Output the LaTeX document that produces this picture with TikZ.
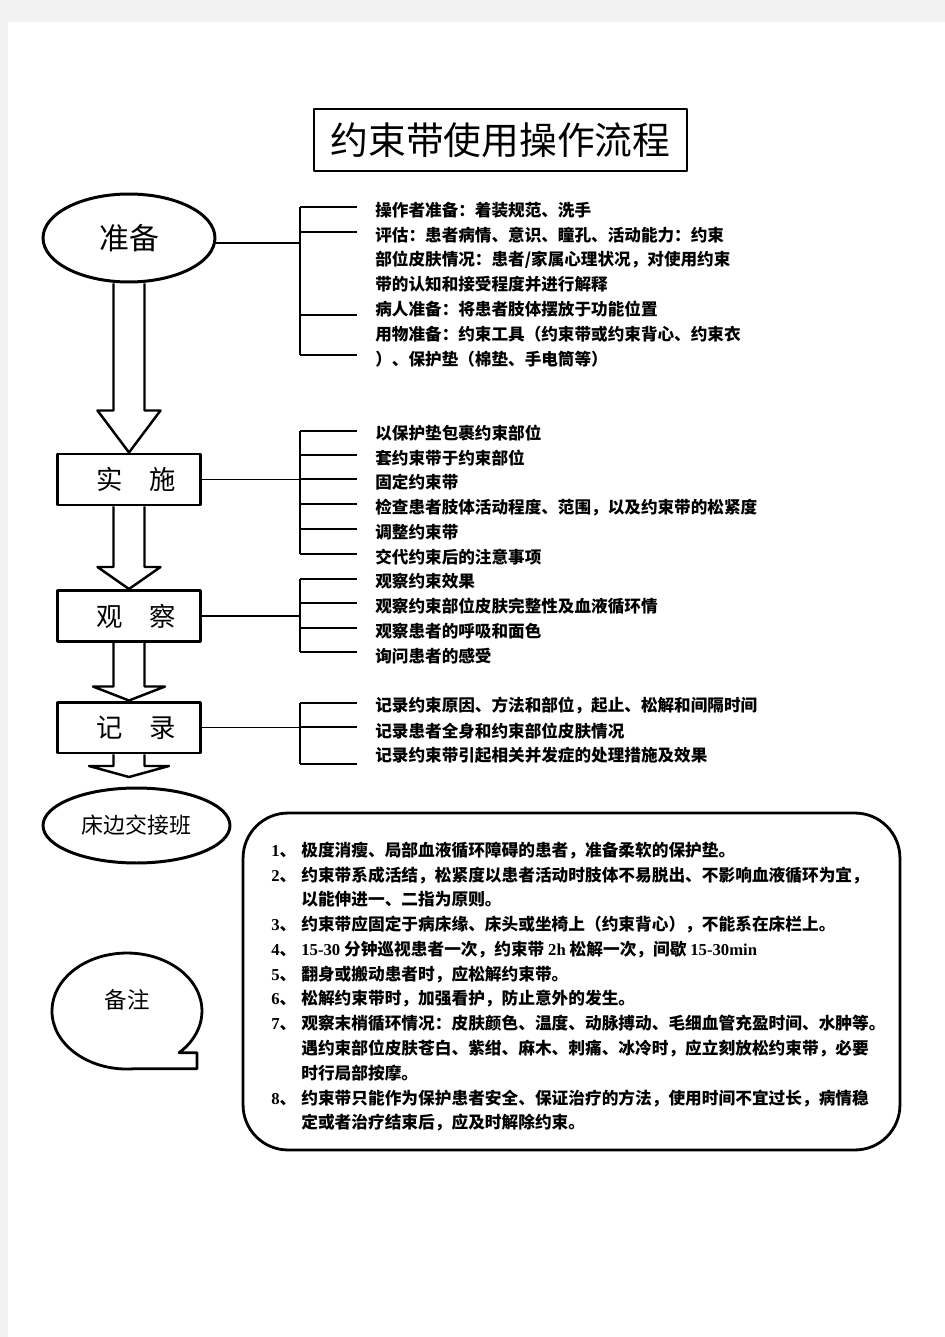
\documentclass[tikz,border=0pt]{standalone}
\usepackage{fontspec}
\newfontfamily\cjk{Noto Sans CJK SC}
\newfontfamily\lat{Liberation Serif}
\usetikzlibrary{arrows.meta, calc, shapes.geometric}

% hollow block arrow: start, tip, head length, head half width
\newcommand{\fatarrow}[4]{%
	\draw[fatline] ($(#1)+(-15.5,0)$) -- ($(#2)+(-15.5,-#3)$) -- ($(#2)+(-#4,-#3)$)
	-- (#2) -- ($(#2)+(#4,-#3)$) -- ($(#2)+(15.5,-#3)$) -- ($(#1)+(15.5,0)$);}
\newcommand{\no}[1]{\makebox[0.6cm][l]{{\lat\bfseries #1}、}}
\newcommand{\ind}{\hspace*{0.6cm}}

\begin{document}
\begin{tikzpicture}[x=0.02cm, y=-0.02cm, line join=round, font=\cjk,
	heading/.style={draw, line width=1.4pt, minimum width=7.46cm, minimum height=1.24cm,
		font=\cjk\fontsize{21.5}{24}\selectfont},
	oval/.style={draw, ellipse, line width=1.7pt, inner sep=0pt},
	stage/.style={draw, line width=1.7pt, minimum width=2.88cm, minimum height=1.02cm,
		font=\cjk\fontsize{15}{18}\selectfont},
	item/.style={anchor=west, inner sep=0pt, font=\cjk\bfseries\fontsize{9.45}{14.1}\selectfont},
	feed/.style={line width=0.6pt},
	tick/.style={line width=0.6pt},
	tickb/.style={line width=1.3pt},
	fatline/.style={line width=1.4pt},
	notebox/.style={draw, rounded corners=0.9cm, line width=1.6pt,
		minimum width=13.14cm, minimum height=6.74cm},
	notetext/.style={anchor=north west, inner sep=0pt, align=left,
		font=\cjk\bfseries\fontsize{9.5}{14.1}\selectfont}]
\useasboundingbox (0,0) rectangle (945,1337);
% page
\fill[black!5] (0,0) rectangle (945,1337);
\fill[white] (8,22) rectangle (945,1337);

%========================
% title and stages
%========================
\node[heading] (title) at (500.5,140) {约束带使用操作流程};
\node[oval, minimum width=3.44cm, minimum height=1.76cm,
	font=\cjk\fontsize{17}{20}\selectfont] (prep) at (129,238) {准备};
\node[stage] (impl) at (129,479.5) {\hspace{0.3cm}实\hspace{1em}施};
\node[stage] (obs) at (129,616) {\hspace{0.3cm}观\hspace{1em}察};
\node[stage] (rec) at (129,727.5) {\hspace{0.3cm}记\hspace{1em}录};
\node[oval, minimum width=3.74cm, minimum height=1.5cm,
	font=\cjk\fontsize{12.5}{15}\selectfont] (hand) at (136.5,825.5) {床边交接班};
\coordinate (handtip) at (129,777);

% block arrows
\fatarrow{prep.south}{impl.north}{42}{31.5}
\fatarrow{impl.south}{obs.north}{22}{31.5}
\fatarrow{obs.south}{rec.north}{14}{36}
\fatarrow{rec.south}{handtip}{11}{40}

%========================
% preparation items
%========================
\foreach \t [count=\i from 0] in {操作者准备：着装规范、洗手,
	评估：患者病情、意识、瞳孔、活动能力：约束,
	部位皮肤情况：患者/家属心理状况，对使用约束,
	带的认知和接受程度并进行解释,
	病人准备：将患者肢体摆放于功能位置,
	用物准备：约束工具（约束带或约束背心、约束衣,
	）、保护垫（棉垫、手电筒等）}
	\node[item] (a\i) at (375,210+24.8*\i) {\t};
\coordinate (s1) at (300,207);
\draw[feed] ([yshift=-0.1cm]prep.east) -- ([yshift=-0.1cm]prep.east -| s1);
\draw[tick] (s1) -- (300,355);
\foreach \y/\s in {207/tick, 232/tickb, 315/tick, 355/tickb}
	\draw[\s] (300,\y) -- (357,\y);

%========================
% implementation and observation items
%========================
\foreach \t [count=\i from 0] in {以保护垫包裹约束部位,
	套约束带于约束部位,
	固定约束带,
	检查患者肢体活动程度、范围，以及约束带的松紧度,
	调整约束带,
	交代约束后的注意事项,
	观察约束效果,
	观察约束部位皮肤完整性及血液循环情,
	观察患者的呼吸和面色,
	询问患者的感受}
	\node[item] (b\i) at (375,433+24.75*\i) {\t};
\coordinate (s2) at (300,431);
\draw[feed] (impl.east) -- (impl.east -| s2);
\draw[tick] (s2) -- (300,554);
\foreach \y/\s in {431/tick, 455/tick, 479/tickb, 504/tick, 529/tick, 554/tick}
	\draw[\s] (300,\y) -- (357,\y);

\coordinate (s3) at (300,579);
\draw[feed] (obs.east) -- (obs.east -| s3);
\draw[tick] (s3) -- (300,652);
\foreach \y/\s in {579/tick, 603/tickb, 628/tick, 652/tick}
	\draw[\s] (300,\y) -- (357,\y);

%========================
% record items
%========================
\foreach \t [count=\i from 0] in {记录约束原因、方法和部位，起止、松解和间隔时间,
	记录患者全身和约束部位皮肤情况,
	记录约束带引起相关并发症的处理措施及效果}
	\node[item] (c\i) at (375,706+24.6*\i) {\t};
\coordinate (s4) at (300,703);
\draw[feed] (rec.east) -- (rec.east -| s4);
\draw[tick] (s4) -- (300,764);
\foreach \y/\s in {703/tick, 727/tickb, 764/tick}
	\draw[\s] (300,\y) -- (357,\y);

%========================
% notes
%========================
\draw[line width=1.6pt] (133.5,1068.8) arc[start angle=85, end angle=406, x radius=75, y radius=58]
	-- (197,1052.7) -- (197,1068.8) -- cycle;
\node[font=\cjk\fontsize{12.8}{15}\selectfont] (memo) at (127,1000) {备注};

\node[notebox] (notes) at (571.5,981.5) {};
\node[notetext] (notetxt) at (271,841.5) {%
	\no{1}极度消瘦、局部血液循环障碍的患者，准备柔软的保护垫。\\
	\no{2}约束带系成活结，松紧度以患者活动时肢体不易脱出、不影响血液循环为宜，\\
	\ind 以能伸进一、二指为原则。\\
	\no{3}约束带应固定于病床缘、床头或坐椅上（约束背心），不能系在床栏上。\\
	\no{4}{\lat\bfseries 15-30} 分钟巡视患者一次，约束带 {\lat\bfseries 2h} 松解一次，间歇 {\lat\bfseries 15-30min}\\
	\no{5}翻身或搬动患者时，应松解约束带。\\
	\no{6}松解约束带时，加强看护，防止意外的发生。\\
	\no{7}观察末梢循环情况：皮肤颜色、温度、动脉搏动、毛细血管充盈时间、水肿等。\\
	\ind 遇约束部位皮肤苍白、紫绀、麻木、刺痛、冰冷时，应立刻放松约束带，必要\\
	\ind 时行局部按摩。\\
	\no{8}约束带只能作为保护患者安全、保证治疗的方法，使用时间不宜过长，病情稳\\
	\ind 定或者治疗结束后，应及时解除约束。};
\end{tikzpicture}
\end{document}
